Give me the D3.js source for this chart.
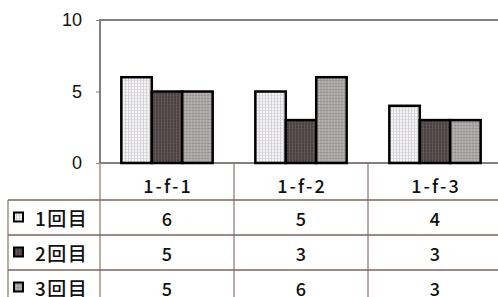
<!DOCTYPE html>
<html>
<head>
<meta charset="utf-8">
<script src="https://cdn.jsdelivr.net/npm/d3@7"></script>
<style>
body { margin: 0; background: #fff; }
svg { display: block; }
</style>
</head>
<body>
<svg width="498" height="297"></svg>
<script>
// data
var categories = ["1-f-1", "1-f-2", "1-f-3"];
var seriesNames = ["1回目", "2回目", "3回目"];
var run1 = [6, 5, 4];
var run2 = [5, 3, 3];
var run3 = [5, 6, 3];
var yTicks = [0, 5, 10];

var allRuns = [run1, run2, run3];

var svg = d3.select("svg"),
    width = +svg.attr("width"),
    height = +svg.attr("height");

var plotLeft = 100, plotTop = 20, plotBottom = 163, cellW = 134;

var x = d3.scaleBand()
    .domain(categories)
    .range([plotLeft, plotLeft + cellW * categories.length]);

var xSub = d3.scaleBand()
    .domain(seriesNames)
    .range([0, x.bandwidth()])
    .paddingOuter(0.7)
    .paddingInner(0);

var y = d3.scaleLinear()
    .domain([0, 10])
    .range([plotBottom, plotTop]);

// hatch-like fills
var defs = svg.append("defs");
var fills = [
  { bg: "#f4f5f8", a: "#a8bccf", b: "#e6cbc4" },
  { bg: "#4a4242", a: "#756a68", b: "#5e5452" },
  { bg: "#a9a4a4", a: "#c6c2c2", b: "#918b8b" }
];
fills.forEach(function(f, i) {
  var p = defs.append("pattern")
      .attr("id", "pat" + i)
      .attr("patternUnits", "userSpaceOnUse")
      .attr("width", 3)
      .attr("height", 3);
  p.append("rect").attr("width", 3).attr("height", 3).attr("fill", f.bg);
  p.append("rect").attr("x", 1).attr("width", 1).attr("height", 3).attr("fill", f.a).attr("opacity", 0.6);
  p.append("rect").attr("y", 2).attr("width", 3).attr("height", 1).attr("fill", f.b).attr("opacity", 0.6);
});

// plot frame
svg.append("path")
    .attr("d", "M" + width + "," + plotTop + "H" + plotLeft + "V" + plotBottom + "H" + width)
    .attr("fill", "none")
    .attr("stroke", "#808080")
    .attr("stroke-width", 2);

// y axis
var yAxis = svg.append("g")
    .attr("transform", "translate(" + plotLeft + ",0)")
    .call(d3.axisLeft(y).tickValues(yTicks).tickSize(4).tickPadding(14));
yAxis.select(".domain").remove();
yAxis.selectAll("line").attr("stroke", "#808080");
yAxis.selectAll("text")
    .attr("font-family", "Liberation Sans, Arial, sans-serif")
    .attr("font-size", 18)
    .attr("fill", "#111");

// bars
var groups = svg.append("g").selectAll("g")
    .data(categories)
  .enter().append("g")
    .attr("transform", function(d) { return "translate(" + x(d) + ",0)"; });

groups.selectAll("rect")
    .data(function(d, ci) { return allRuns.map(function(r, si) { return { s: seriesNames[si], si: si, v: r[ci] }; }); })
  .enter().append("rect")
    .attr("x", function(d) { return xSub(d.s); })
    .attr("y", function(d) { return y(d.v); })
    .attr("width", xSub.bandwidth())
    .attr("height", function(d) { return y(0) - y(d.v); })
    .attr("fill", function(d) { return "url(#pat" + d.si + ")"; })
    .attr("stroke", "#000")
    .attr("stroke-width", 2.5);

// data table
var tableLine = "#9a7f76";
var rowTop = 200, rowH = 35;
var tbl = svg.append("g");

// vertical lines
x.domain().forEach(function(c, i) {
  tbl.append("line")
      .attr("x1", x(c)).attr("x2", x(c))
      .attr("y1", plotBottom).attr("y2", height)
      .attr("stroke", tableLine).attr("stroke-width", 1.3);
});
tbl.append("line")
    .attr("x1", 8).attr("x2", 8)
    .attr("y1", rowTop).attr("y2", height)
    .attr("stroke", tableLine).attr("stroke-width", 1.3);

// horizontal lines
seriesNames.forEach(function(s, i) {
  tbl.append("line")
      .attr("x1", 8).attr("x2", width)
      .attr("y1", rowTop + i * rowH).attr("y2", rowTop + i * rowH)
      .attr("stroke", "#7a6660").attr("stroke-width", 1.3);
});

var jpFont = "Noto Sans CJK JP, sans-serif";

// header
tbl.selectAll("text.head")
    .data(categories)
  .enter().append("text")
    .attr("class", "head")
    .attr("x", function(d) { return x(d) + x.bandwidth() / 2 + 1; })
    .attr("y", 185)
    .attr("text-anchor", "middle")
    .attr("dominant-baseline", "central")
    .attr("font-family", jpFont)
    .attr("font-size", 18)
    .attr("font-weight", 500)
    .attr("letter-spacing", 2)
    .attr("fill", "#111")
    .text(function(d) { return d; });

// rows
seriesNames.forEach(function(s, si) {
  var cy = rowTop + si * rowH + rowH / 2;
  tbl.append("rect")
      .attr("x", 14).attr("y", cy - 5)
      .attr("width", 9).attr("height", 9)
      .attr("fill", "url(#pat" + si + ")")
      .attr("stroke", "#000").attr("stroke-width", 2);
  tbl.append("text")
      .attr("x", 35).attr("y", cy)
      .attr("dominant-baseline", "central")
      .attr("font-family", jpFont)
      .attr("font-size", 19)
      .attr("font-weight", 500)
      .attr("letter-spacing", 1.5)
      .attr("fill", "#111")
      .text(s);
  categories.forEach(function(c, ci) {
    tbl.append("text")
        .attr("x", x(c) + x.bandwidth() / 2)
        .attr("y", cy)
        .attr("text-anchor", "middle")
        .attr("dominant-baseline", "central")
        .attr("font-family", jpFont)
        .attr("font-size", 18)
        .attr("font-weight", 500)
        .attr("fill", "#111")
        .text(allRuns[si][ci]);
  });
});
</script>
</body>
</html>
